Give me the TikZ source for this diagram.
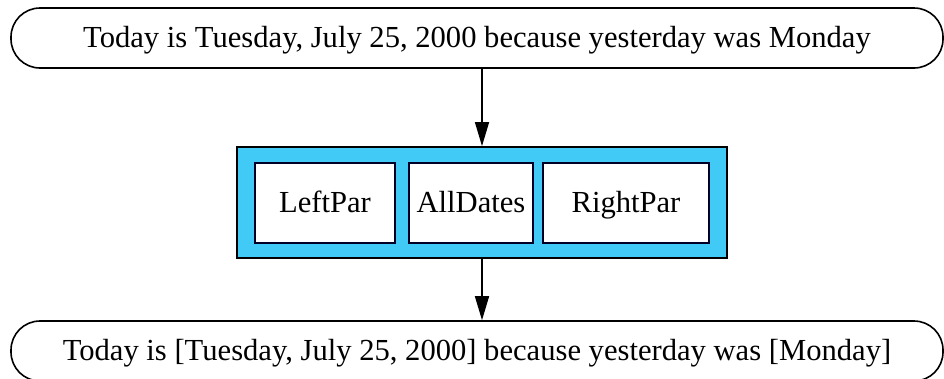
\documentclass[tikz,border=0pt]{standalone}
\usepackage{fontspec}
\setmainfont{Liberation Serif}
\usetikzlibrary{arrows.meta}
\definecolor{cyanfill}{RGB}{64,202,245}
\begin{document}
\begin{tikzpicture}[x=1pt,y=-1pt,
  every node/.style={font=\fontsize{30.6}{34}\selectfont, inner sep=0pt, text height=22pt, text depth=4pt},
  pill/.style={draw, line width=1.6pt, rounded corners=29pt, minimum width=932pt, minimum height=60pt, fill=white},
  inbox/.style={draw=black!85!blue, line width=1.8pt, fill=white, minimum height=80pt},
  outer/.style={draw, line width=1.8pt, fill=cyanfill, minimum width=490pt, minimum height=111pt},
  arr/.style={line width=1.5pt, -{Triangle[length=24pt,width=14pt]}}]
\useasboundingbox (0,0) rectangle (944,378);
\clip (0,0) rectangle (944,378);
\node[pill] (top) at (477,38) {Today is Tuesday, July 25, 2000 because yesterday was Monday};
\node[outer] (mid) at (482,202.5) {};
\node[inbox, minimum width=140pt] (lp) at (325,203) {LeftPar};
\node[inbox, minimum width=124pt] (ad) at (471,203) {AllDates};
\node[inbox, minimum width=166pt] (rp) at (626,203) {RightPar};
\node[pill] (bot) at (477,351) {Today is [Tuesday, July 25, 2000] because yesterday was [Monday]};
\draw[arr] (top.south -| mid.north) -- (mid.north);
\draw[arr] (mid.south) -- (bot.north -| mid.south);
\end{tikzpicture}
\end{document}
